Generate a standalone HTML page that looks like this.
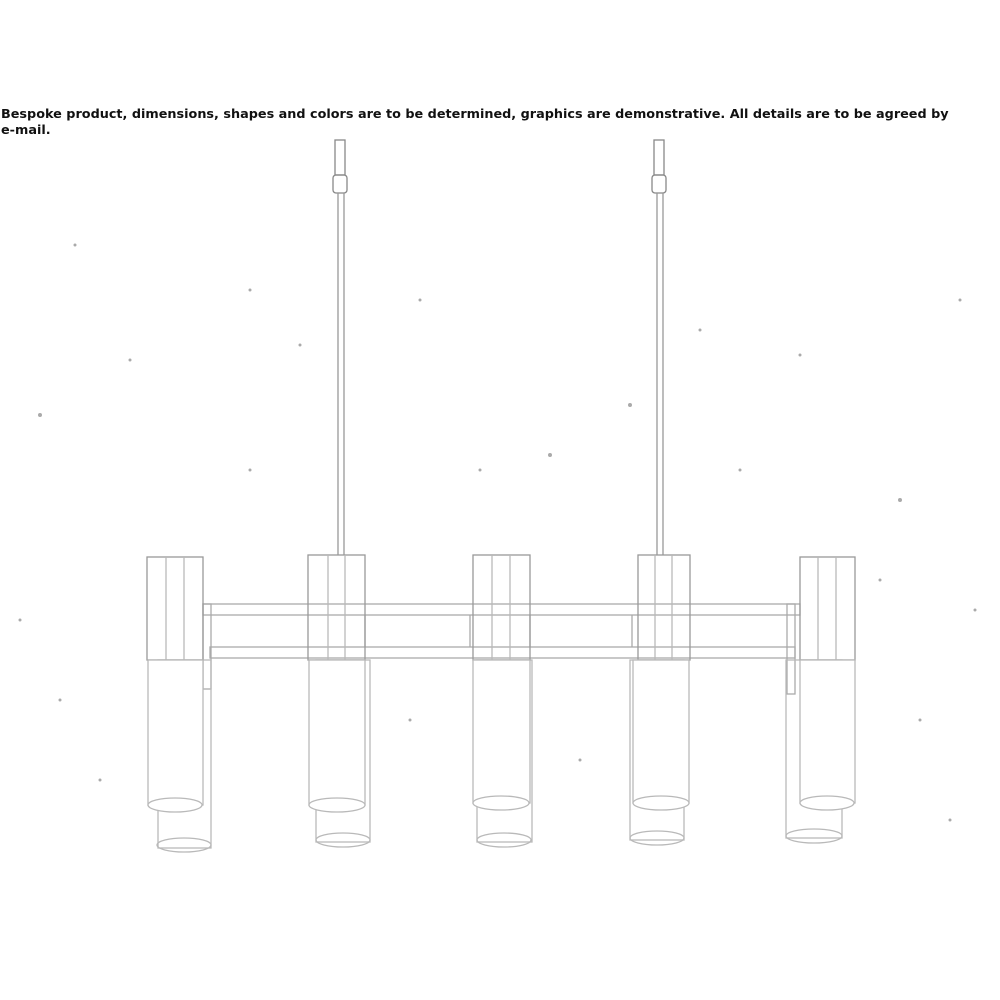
<!DOCTYPE html>
<html><head><style>
body{margin:0;background:#fff;width:1000px;height:1000px;overflow:hidden;position:relative}
.t{position:absolute;left:1px;top:107px;width:990px;font-family:"DejaVu Sans","Liberation Sans",sans-serif;font-weight:bold;font-size:12.8px;line-height:16px;color:#111;letter-spacing:0}
.n{white-space:nowrap}
svg{position:absolute;left:0;top:0}
</style></head><body>
<div class="t">Bespoke product, dimensions, shapes and colors are to be determined, graphics are demonstrative. All details are to be agreed by<br><span class="n">e-mail.</span></div>
<svg width="1000" height="1000" viewBox="0 0 1000 1000" fill="none" stroke="#b9b9b9" stroke-width="1.3">
<rect x="335" y="140" width="10" height="35" stroke="#888"/>
<rect x="333" y="175" width="14" height="18" rx="3" stroke="#888"/>
<line x1="338" y1="193" x2="338" y2="555" stroke="#999"/>
<line x1="344" y1="193" x2="344" y2="555" stroke="#999"/>
<rect x="654" y="140" width="10" height="35" stroke="#888"/>
<rect x="652" y="175" width="14" height="18" rx="3" stroke="#888"/>
<line x1="657" y1="193" x2="657" y2="555" stroke="#999"/>
<line x1="663" y1="193" x2="663" y2="555" stroke="#999"/>
<g stroke="#aaa">
<rect x="203" y="604" width="597" height="11"/>
<rect x="210" y="647" width="585" height="11"/>
<rect x="203" y="604" width="8" height="85"/>
<rect x="787" y="604" width="8" height="90"/>
<line x1="365" y1="615" x2="365" y2="647"/>
<line x1="470" y1="615" x2="470" y2="647"/>
<line x1="530" y1="615" x2="530" y2="647"/>
<line x1="632" y1="615" x2="632" y2="647"/>
</g>
<g>
<rect x="158" y="660" width="53" height="188"/><ellipse cx="184" cy="845" rx="27" ry="7"/>
<rect x="147" y="557" width="56" height="103" stroke="#999"/><line x1="166" y1="557" x2="166" y2="660"/><line x1="184" y1="557" x2="184" y2="660"/>
<rect x="148" y="660" width="55" height="145" fill="#fff"/><ellipse cx="175" cy="805" rx="27" ry="7" fill="#fff"/>

<rect x="316" y="660" width="54" height="182"/><ellipse cx="343" cy="840" rx="27" ry="7"/>
<rect x="308" y="555" width="57" height="105" stroke="#999"/><line x1="328" y1="555" x2="328" y2="660"/><line x1="345" y1="555" x2="345" y2="660"/>
<rect x="309" y="660" width="56" height="145" fill="#fff"/><ellipse cx="337" cy="805" rx="28" ry="7" fill="#fff"/>

<rect x="477" y="660" width="55" height="182"/><ellipse cx="504" cy="840" rx="27" ry="7"/>
<rect x="473" y="555" width="57" height="105" stroke="#999"/><line x1="492" y1="555" x2="492" y2="660"/><line x1="510" y1="555" x2="510" y2="660"/>
<rect x="473" y="660" width="57" height="143" fill="#fff"/><ellipse cx="501" cy="803" rx="28" ry="7" fill="#fff"/>

<rect x="630" y="660" width="54" height="180"/><ellipse cx="657" cy="838" rx="27" ry="7"/>
<rect x="638" y="555" width="52" height="105" stroke="#999"/><line x1="655" y1="555" x2="655" y2="660"/><line x1="672" y1="555" x2="672" y2="660"/>
<rect x="633" y="660" width="56" height="143" fill="#fff"/><ellipse cx="661" cy="803" rx="28" ry="7" fill="#fff"/>

<rect x="786" y="660" width="56" height="178"/><ellipse cx="814" cy="836" rx="28" ry="7"/>
<rect x="800" y="557" width="55" height="103" stroke="#999"/><line x1="818" y1="557" x2="818" y2="660"/><line x1="836" y1="557" x2="836" y2="660"/>
<rect x="800" y="660" width="55" height="143" fill="#fff"/><ellipse cx="827" cy="803" rx="27" ry="7" fill="#fff"/>
</g>
<g fill="#aaa" stroke="none">
<circle cx="40" cy="415" r="2"/><circle cx="75" cy="245" r="1.5"/><circle cx="130" cy="360" r="1.5"/><circle cx="250" cy="290" r="1.5"/>
<circle cx="300" cy="345" r="1.5"/><circle cx="420" cy="300" r="1.5"/><circle cx="550" cy="455" r="2"/><circle cx="630" cy="405" r="2"/>
<circle cx="700" cy="330" r="1.5"/><circle cx="800" cy="355" r="1.5"/><circle cx="900" cy="500" r="2"/><circle cx="960" cy="300" r="1.5"/>
<circle cx="20" cy="620" r="1.5"/><circle cx="60" cy="700" r="1.5"/><circle cx="920" cy="720" r="1.5"/><circle cx="975" cy="610" r="1.5"/>
<circle cx="250" cy="470" r="1.5"/><circle cx="480" cy="470" r="1.5"/><circle cx="740" cy="470" r="1.5"/><circle cx="880" cy="580" r="1.5"/>
<circle cx="100" cy="780" r="1.5"/><circle cx="410" cy="720" r="1.5"/><circle cx="580" cy="760" r="1.5"/><circle cx="950" cy="820" r="1.5"/>
</g>
</svg>
</body></html>
